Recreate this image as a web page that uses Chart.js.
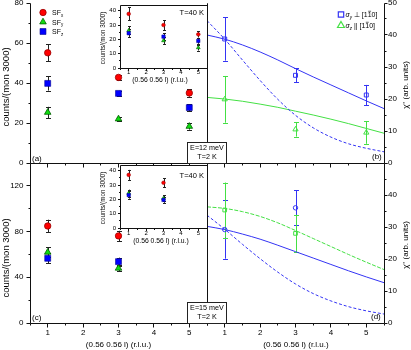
<!DOCTYPE html>
<html><head><meta charset="utf-8">
<script src="https://cdn.jsdelivr.net/npm/chart.js@4.4.0/dist/chart.umd.min.js"></script>
<style>
html,body{margin:0;padding:0;background:#fff;}
#wrap{position:relative;width:411px;height:350px;overflow:hidden;background:#fff;}
canvas{position:absolute;left:0;top:0;}
</style></head><body>
<div id="wrap">
<canvas id="cA" width="411" height="350"></canvas>
<canvas id="cC" width="411" height="350"></canvas>
<canvas id="cB" width="411" height="350"></canvas>
<canvas id="cD" width="411" height="350"></canvas>
<canvas id="cAi" width="411" height="350"></canvas>
<canvas id="cCi" width="411" height="350"></canvas>
</div>
<script>
// ---------------- data ----------------
const qL = [1, 3, 5];          // (0.56 0.56 l), E = 12 meV
const qL15 = [1, 3];           // (0.56 0.56 l), E = 15 meV
// (a) E=12 meV, T=2 K
const sfxA = [55.1, 42.8, 35.0], sfxAErr = [4.2, 1.4, 1.8];
const sfyA = [25.3, 22.0, 18.3], sfyAErr = [2.8, 1.0, 1.6];
const sfzA = [39.8, 34.8, 27.7], sfzAErr = [3.6, 1.3, 1.7];
// inset (a) T=40 K
const sfxAi = [37.8, 30.0, 23.5], sfxAiErr = [4.5, 3.5, 2.2];
const sfyAi = [26.2, 19.1, 14.2], sfyAiErr = [2.8, 2.3, 2.0];
const sfzAi = [24.3, 21.9, 18.9], sfzAiErr = [2.6, 2.3, 2.0];
// (c) E=15 meV, T=2 K
const sfxC = [84.9, 76.2], sfxCErr = [5.5, 4.5];
const sfyC = [61.9, 47.9], sfyCErr = [4.4, 2.5];
const sfzC = [56.6, 53.7], sfzCErr = [4.4, 3.5];
// inset (c) T=40 K
const sfxCi = [37.1, 31.6], sfxCiErr = [3.5, 3.0];
const sfyCi = [24.3, 20.7], sfyCiErr = [2.5, 2.0];
const sfzCi = [23.0, 19.6], sfzCiErr = [2.5, 2.0];
// (b) chi'' E=12 meV
const perpB = [38.75, 27.4, 21.25], perpBErr = [6.75, 2.2, 3.15];
const parB  = [19.9, 10.5, 9.5],    parBErr  = [7.3, 2.25, 3.5];
// (d) chi'' E=15 meV
const perpD = [29.2, 36.0], perpDErr = [9.1, 5.5];
const parD  = [35.3, 28.0], parDErr  = [8.6, 5.8];
// model curves
const curveL   = [0.5, 1, 1.5, 2, 2.5, 3, 3.5, 4, 4.5, 5, 5.5];
const bPerpFit = [40.0, 38.7, 36.9, 34.7, 32.2, 29.5, 26.9, 24.4, 21.9, 19.4, 17.0];
const bPerpIso = [44.5, 38.7, 32.2, 25.8, 19.9, 14.9, 11.0, 8.1, 6.0, 4.6, 3.5];
const bParFit  = [20.5, 20.0, 19.3, 18.4, 17.4, 16.2, 15.0, 13.7, 12.3, 10.8, 9.3];
const dPerpFit = [30.2, 29.2, 27.8, 26.2, 24.3, 22.3, 20.3, 18.3, 16.3, 14.4, 12.6];
const dPerpIso = [33.7, 29.3, 24.6, 20.1, 15.9, 12.2, 9.2, 6.9, 5.1, 3.8, 2.8];
const dParFit  = [36.3, 35.8, 34.8, 33.3, 31.3, 28.9, 26.4, 23.9, 21.4, 19.0, 16.7];
// ticks
const xMajor = [1, 2, 3, 4, 5];
const xMinor = [0.5, 1.5, 2.5, 3.5, 4.5, 5.5];
const yMajorA = [0, 20, 40, 60, 80], yMinorA = [10, 30, 50, 70];
const yMajorC = [0, 40, 80, 120], yMinorC = [20, 60, 100, 140];
const yMajorR = [0, 10, 20, 30, 40, 50], yMinorR = [5, 15, 25, 35, 45];
const yLabelsD = [0, 10, 20, 30, 40];
const yMajorIn = [0, 10, 20, 30, 40], yMinorIn = [5, 15, 25, 35];

// ---------------- style ----------------
const W = 411, H = 350;
const FONT = "'Liberation Sans', Arial, sans-serif";
const RED = '#ff0000', RED_E = '#9a0000', GRN = '#10dd10', GRN_E = '#006000', BLU = '#0000ff', BLU_E = '#000090';
const LBLUE = '#3434f4', LGREEN = '#44e044';
const pts = (xs, ys) => xs.map((x, i) => ({x, y: ys[i]}));

function txt(ctx, s, x, y, o = {}) {
  ctx.save();
  ctx.font = `${o.italic ? 'italic ' : ''}${o.size || 8}px ${FONT}`;
  ctx.fillStyle = o.color || '#000';
  ctx.textAlign = o.align || 'left';
  ctx.textBaseline = o.base || 'alphabetic';
  ctx.translate(x, y);
  if (o.rot) ctx.rotate(o.rot);
  ctx.fillText(s, 0, 0);
  ctx.restore();
}
function rich(ctx, runs, x, y) {
  let cx = x;
  ctx.save();
  ctx.fillStyle = '#000'; ctx.strokeStyle = '#000'; ctx.textBaseline = 'alphabetic'; ctx.textAlign = 'left';
  runs.forEach(r => {
    const sz = r.size || 7;
    ctx.font = `${r.italic ? 'italic ' : ''}${sz}px ${FONT}`;
    ctx.fillText(r.t, cx, y + (r.dy || 0));
    const w = ctx.measureText(r.t).width;
    if (r.over) { ctx.lineWidth = 0.6; ctx.beginPath(); ctx.moveTo(cx + 0.5, y - sz * 0.82); ctx.lineTo(cx + w - 0.5, y - sz * 0.82); ctx.stroke(); }
    cx += w;
  });
  ctx.restore();
}
function marker(ctx, style, r, x, y, fill, stroke, bw) {
  ctx.save();
  ctx.fillStyle = fill; ctx.strokeStyle = stroke; ctx.lineWidth = bw;
  Chart.helpers.drawPoint(ctx, {pointStyle: style, radius: r, rotation: 0, borderWidth: bw}, x, y);
  ctx.restore();
}

function deco(s) {
  return {
    id: 'deco',
    beforeDraw(chart) {
      if (!s.whiteBg) return;
      const a = chart.chartArea, ctx = chart.ctx;
      ctx.save(); ctx.fillStyle = '#fff';
      ctx.fillRect(a.left, a.top, a.right - a.left, a.bottom - a.top);
      ctx.restore();
    },
    beforeDatasetsDraw(chart) {
      const ctx = chart.ctx, xs = chart.scales.x, ys = chart.scales.y;
      ctx.save();
      chart.data.datasets.forEach(ds => {
        if (!ds.errs) return;
        ctx.strokeStyle = ds.errColor || '#222'; ctx.lineWidth = 1;
        ds.data.forEach((p, i) => {
          const e = ds.errs[i];
          const px = Math.round(xs.getPixelForValue(p.x)) + 0.5;
          const t = ys.getPixelForValue(p.y + e), b = ys.getPixelForValue(p.y - e);
          const c = ds.cap || 2.5;
          ctx.beginPath();
          ctx.moveTo(px, t); ctx.lineTo(px, b);
          ctx.moveTo(px - c, Math.round(t) + 0.5); ctx.lineTo(px + c, Math.round(t) + 0.5);
          ctx.moveTo(px - c, Math.round(b) + 0.5); ctx.lineTo(px + c, Math.round(b) + 0.5);
          ctx.stroke();
        });
      });
      ctx.restore();
    },
    afterDraw(chart) {
      const ctx = chart.ctx, a = chart.chartArea;
      ctx.save();
      ctx.strokeStyle = '#111'; ctx.lineWidth = 1;
      const L = Math.floor(a.left) + 0.5, R = Math.floor(a.right) + 0.5, T = Math.floor(a.top) + 0.5, B = Math.floor(a.bottom) + 0.5;
      ctx.beginPath();
      if (s.frame.left) { ctx.moveTo(L, T); ctx.lineTo(L, B); }
      if (s.frame.right) { ctx.moveTo(R, T); ctx.lineTo(R, B); }
      if (s.frame.top) { ctx.moveTo(L, T); ctx.lineTo(R, T); }
      if (s.frame.bottom) { ctx.moveTo(L, B); ctx.lineTo(R, B); }
      ctx.stroke();
      (s.ticks || []).forEach(tk => {
        const sc = chart.scales[tk.axis];
        const draw = (v, len) => {
          const p = Math.floor(sc.getPixelForValue(v)) + 0.5;
          ctx.beginPath();
          if (tk.side === 'left') { ctx.moveTo(L, p); ctx.lineTo(L - len, p); }
          if (tk.side === 'right') { ctx.moveTo(R, p); ctx.lineTo(R + len, p); }
          if (tk.side === 'bottom') { ctx.moveTo(p, B); ctx.lineTo(p, B + len); }
          ctx.stroke();
        };
        tk.major.forEach(v => draw(v, tk.len || 4));
        (tk.minor || []).forEach(v => draw(v, tk.mlen || 2));
      });
      ctx.restore();
      if (s.extra) s.extra(ctx, chart);
    }
  };
}

function makeChart(id, s) {
  const yRight = s.yPos === 'right';
  const pad = {
    left: yRight ? s.area[0] : s.area[0] - s.yW,
    top: s.area[1],
    right: yRight ? W - s.area[2] - s.yW : W - s.area[2],
    bottom: H - s.area[3] - s.xH
  };
  const fit = (size, horiz) => sc => {
    if (horiz) sc.height = size; else sc.width = size;
    sc.paddingLeft = 0; sc.paddingRight = 0; sc.paddingTop = 0; sc.paddingBottom = 0;
  };
  return new Chart(document.getElementById(id), {
    type: 'scatter',
    data: {datasets: s.datasets},
    options: {
      responsive: false, animation: false, devicePixelRatio: 1, events: [],
      layout: {padding: pad, autoPadding: false},
      plugins: {legend: {display: false}, tooltip: {enabled: false}, title: {display: false}},
      scales: {
        x: {
          type: 'linear', position: 'bottom', min: s.x.min, max: s.x.max,
          afterBuildTicks: sc => { sc.ticks = s.x.labels.map(v => ({value: v})); },
          afterFit: fit(s.xH, true),
          grid: {display: false, drawTicks: false}, border: {display: false},
          ticks: {display: s.x.show, padding: s.x.pad || 0, autoSkip: false, maxRotation: 0, minRotation: 0,
                  color: '#000', font: {family: FONT, size: s.x.fs || 8}, callback: v => String(v)}
        },
        y: {
          type: 'linear', position: s.yPos, min: s.y.min, max: s.y.max,
          afterBuildTicks: sc => { sc.ticks = s.y.labels.map(v => ({value: v})); },
          afterFit: fit(s.yW, false),
          grid: {display: false, drawTicks: false}, border: {display: false},
          ticks: {display: s.y.show, padding: s.y.pad || 0, autoSkip: false,
                  color: '#000', font: {family: FONT, size: s.y.fs || 8}, callback: v => String(v)}
        }
      }
    },
    plugins: [deco(s)]
  });
}

const sfDatasets = (xs, x, xe, y, ye, z, ze, big) => [
  {data: pts(xs, x), errs: xe, errColor: '#222', cap: big ? 2.5 : 1.5, pointStyle: 'circle', pointRadius: big ? 3.2 : 1.8,
   backgroundColor: RED, borderColor: RED_E, borderWidth: big ? 0.8 : 0.6},
  {data: pts(xs, z), errs: ze, errColor: '#222', cap: big ? 2.5 : 1.5, pointStyle: 'rect', pointRadius: big ? 4.2 : 2.4,
   backgroundColor: BLU, borderColor: BLU_E, borderWidth: big ? 0.6 : 0.5},
  {data: pts(xs, y), errs: ye, errColor: '#222', cap: big ? 2.5 : 1.5, pointStyle: 'triangle', pointRadius: big ? 3.8 : 2.2,
   backgroundColor: GRN, borderColor: GRN_E, borderWidth: big ? 0.8 : 0.6}
];
const curve = (ys, color, dash) => ({data: pts(curveL, ys), showLine: true, pointRadius: 0, borderColor: color,
  borderWidth: 1, borderDash: dash || [], cubicInterpolationMode: 'monotone', fill: false});

const ROT = -Math.PI / 2;
const xAxisMain = {min: 0.5, max: 5.5, labels: xMajor};

// (a)
makeChart('cA', {
  area: [30, 3, 207, 163], yPos: 'left', yW: 30, xH: 10,
  x: {...xAxisMain, show: false},
  y: {min: 0, max: 80, labels: yMajorA, show: true, pad: 6.5, fs: 8},
  frame: {left: true, bottom: true, right: true},
  ticks: [{side: 'left', axis: 'y', major: yMajorA, minor: yMinorA}, {side: 'bottom', axis: 'x', major: xMajor, minor: xMinor}],
  datasets: sfDatasets(qL, sfxA, sfxAErr, sfyA, sfyAErr, sfzA, sfzAErr, true),
  extra(ctx) {
    marker(ctx, 'circle', 3.2, 43, 12.5, RED, RED_E, 0.8);
    marker(ctx, 'triangle', 3.8, 43, 22, GRN, GRN_E, 0.8);
    marker(ctx, 'rect', 4.2, 43, 31.5, BLU, BLU_E, 0.6);
    [['SF', 'x', 15], ['SF', 'y', 24.5], ['SF', 'z', 34]].forEach(([a, b, y]) =>
      rich(ctx, [{t: a, size: 7}, {t: b, size: 4.5, dy: 1.5}], 52, y));
    txt(ctx, '(a)', 32, 161, {size: 8});
    txt(ctx, 'counts/(mon 3000)', 6, 87, {size: 9.5, align: 'center', base: 'middle', rot: ROT});
  }
});

// (c)
makeChart('cC', {
  area: [30, 163, 207, 323], yPos: 'left', yW: 30, xH: 18,
  x: {...xAxisMain, show: true, pad: 5, fs: 8},
  y: {min: 0, max: 140, labels: yMajorC, show: true, pad: 6.5, fs: 8},
  frame: {left: true, bottom: true, right: true},
  ticks: [{side: 'left', axis: 'y', major: yMajorC, minor: yMinorC}, {side: 'bottom', axis: 'x', major: xMajor, minor: xMinor}],
  datasets: sfDatasets(qL15, sfxC, sfxCErr, sfyC, sfyCErr, sfzC, sfzCErr, true),
  extra(ctx) {
    txt(ctx, '(c)', 32, 320, {size: 8});
    txt(ctx, 'counts/(mon 3000)', 6, 258, {size: 9.5, align: 'center', base: 'middle', rot: ROT});
    txt(ctx, '(0.56 0.56 l) (r.l.u.)', 118.5, 345, {size: 8, align: 'center', base: 'middle'});
  }
});

// (b)
makeChart('cB', {
  area: [207, 3, 384, 163], yPos: 'right', yW: 27, xH: 10,
  x: {...xAxisMain, show: false},
  y: {min: 0, max: 50, labels: yMajorR, show: true, pad: 4, fs: 8},
  frame: {left: true, bottom: true, right: true},
  ticks: [{side: 'right', axis: 'y', major: yMajorR, minor: yMinorR, len: 3}, {side: 'bottom', axis: 'x', major: xMajor, minor: xMinor}],
  datasets: [
    {data: pts(qL, perpB), errs: perpBErr, errColor: LBLUE, cap: 2.5, pointStyle: 'rect', pointRadius: 2.8,
     backgroundColor: 'rgba(0,0,0,0)', borderColor: LBLUE, borderWidth: 1},
    {data: pts(qL, parB), errs: parBErr, errColor: LGREEN, cap: 2.5, pointStyle: 'triangle', pointRadius: 3,
     backgroundColor: 'rgba(0,0,0,0)', borderColor: LGREEN, borderWidth: 1},
    curve(bPerpFit, LBLUE), curve(bPerpIso, LBLUE, [3, 2]), curve(bParFit, LGREEN)
  ],
  extra(ctx) {
    marker(ctx, 'rect', 3.8, 341, 14.5, 'rgba(0,0,0,0)', LBLUE, 1.2);
    marker(ctx, 'triangle', 4, 341, 25.5, 'rgba(0,0,0,0)', LGREEN, 1.2);
    rich(ctx, [{t: 'σ', italic: true}, {t: 'y', italic: true, size: 4.5, dy: 1.5}, {t: ' ⊥ [1'}, {t: '1', over: true}, {t: '0]'}], 345.5, 17);
    rich(ctx, [{t: 'σ', italic: true}, {t: 'z', italic: true, size: 4.5, dy: 1.5}, {t: ' || [1'}, {t: '1', over: true}, {t: '0]'}], 345.5, 28);
    txt(ctx, '(b)', 372, 159, {size: 8});
    txt(ctx, "χ'' (arb. units)", 406, 85, {size: 8, align: 'center', base: 'middle', rot: ROT});
  }
});

// (d)
makeChart('cD', {
  area: [207, 163, 384, 323], yPos: 'right', yW: 27, xH: 18,
  x: {...xAxisMain, show: true, pad: 5, fs: 8},
  y: {min: 0, max: 50, labels: yLabelsD, show: true, pad: 4, fs: 8},
  frame: {left: true, bottom: true, right: true},
  ticks: [{side: 'right', axis: 'y', major: yMajorR, minor: yMinorR, len: 3}, {side: 'bottom', axis: 'x', major: xMajor, minor: xMinor}],
  datasets: [
    {data: pts(qL15, perpD), errs: perpDErr, errColor: LBLUE, cap: 2.5, pointStyle: 'circle', pointRadius: 2.2,
     backgroundColor: 'rgba(0,0,0,0)', borderColor: LBLUE, borderWidth: 1},
    {data: pts(qL15, parD), errs: parDErr, errColor: LGREEN, cap: 2.5, pointStyle: 'rect', pointRadius: 2.6,
     backgroundColor: 'rgba(0,0,0,0)', borderColor: LGREEN, borderWidth: 1},
    curve(dPerpFit, LBLUE), curve(dPerpIso, LBLUE, [3, 2]), curve(dParFit, LGREEN, [4, 1.5])
  ],
  extra(ctx) {
    txt(ctx, '(d)', 371, 319, {size: 8});
    txt(ctx, "χ'' (arb. units)", 406, 245, {size: 8, align: 'center', base: 'middle', rot: ROT});
    txt(ctx, '(0.56 0.56 l) (r.l.u.)', 296, 345, {size: 8, align: 'center', base: 'middle'});
  }
});

// inset (a)
makeChart('cAi', {
  area: [120, 5, 207, 68], yPos: 'left', yW: 14, xH: 10, whiteBg: true,
  x: {...xAxisMain, show: true, pad: 0.5, fs: 6},
  y: {min: 0, max: 44, labels: yMajorIn, show: true, pad: 4, fs: 6},
  frame: {left: true, bottom: true, right: true, top: true},
  ticks: [{side: 'left', axis: 'y', major: yMajorIn, minor: yMinorIn, len: 2.5, mlen: 1.5}, {side: 'bottom', axis: 'x', major: xMajor, minor: xMinor, len: 2.5, mlen: 1.5}],
  datasets: sfDatasets(qL, sfxAi, sfxAiErr, sfyAi, sfyAiErr, sfzAi, sfzAiErr, false),
  extra(ctx) {
    txt(ctx, 'T=40 K', 204, 13, {size: 7.5, align: 'right', base: 'middle'});
    txt(ctx, 'counts/(mon 3000)', 103.5, 38, {size: 6.3, align: 'center', base: 'middle', rot: ROT});
    txt(ctx, '(0.56 0.56 l) (r.l.u.)', 160, 80, {size: 6.8, align: 'center', base: 'middle'});
  }
});

// inset (c)
makeChart('cCi', {
  area: [120, 165, 207, 228], yPos: 'left', yW: 14, xH: 10, whiteBg: true,
  x: {...xAxisMain, show: true, pad: 2, fs: 6},
  y: {min: 0, max: 44, labels: yMajorIn, show: true, pad: 4, fs: 6},
  frame: {left: true, bottom: true, right: true, top: true},
  ticks: [{side: 'left', axis: 'y', major: yMajorIn, minor: yMinorIn, len: 2.5, mlen: 1.5}, {side: 'bottom', axis: 'x', major: xMajor, minor: xMinor, len: 2.5, mlen: 1.5}],
  datasets: sfDatasets(qL15, sfxCi, sfxCiErr, sfyCi, sfyCiErr, sfzCi, sfzCiErr, false),
  extra(ctx) {
    txt(ctx, 'T=40 K', 204, 176, {size: 7.5, align: 'right', base: 'middle'});
    txt(ctx, 'counts/(mon 3000)', 103.5, 198, {size: 6.3, align: 'center', base: 'middle', rot: ROT});
    txt(ctx, '(0.56 0.56 l) (r.l.u.)', 161, 241, {size: 6.8, align: 'center', base: 'middle'});
    [[142, 'E=12 meV'], [302, 'E=15 meV']].forEach(([y0, e]) => {
      ctx.save();
      ctx.fillStyle = '#fff'; ctx.fillRect(187, y0, 39, 21);
      ctx.strokeStyle = '#222'; ctx.lineWidth = 1; ctx.strokeRect(187.5, y0 + 0.5, 39, 21);
      ctx.restore();
      txt(ctx, e, 207, y0 + 6, {size: 7.2, align: 'center', base: 'middle'});
      txt(ctx, 'T=2 K', 207, y0 + 15.5, {size: 7.2, align: 'center', base: 'middle'});
    });
  }
});
</script>
</body></html>
